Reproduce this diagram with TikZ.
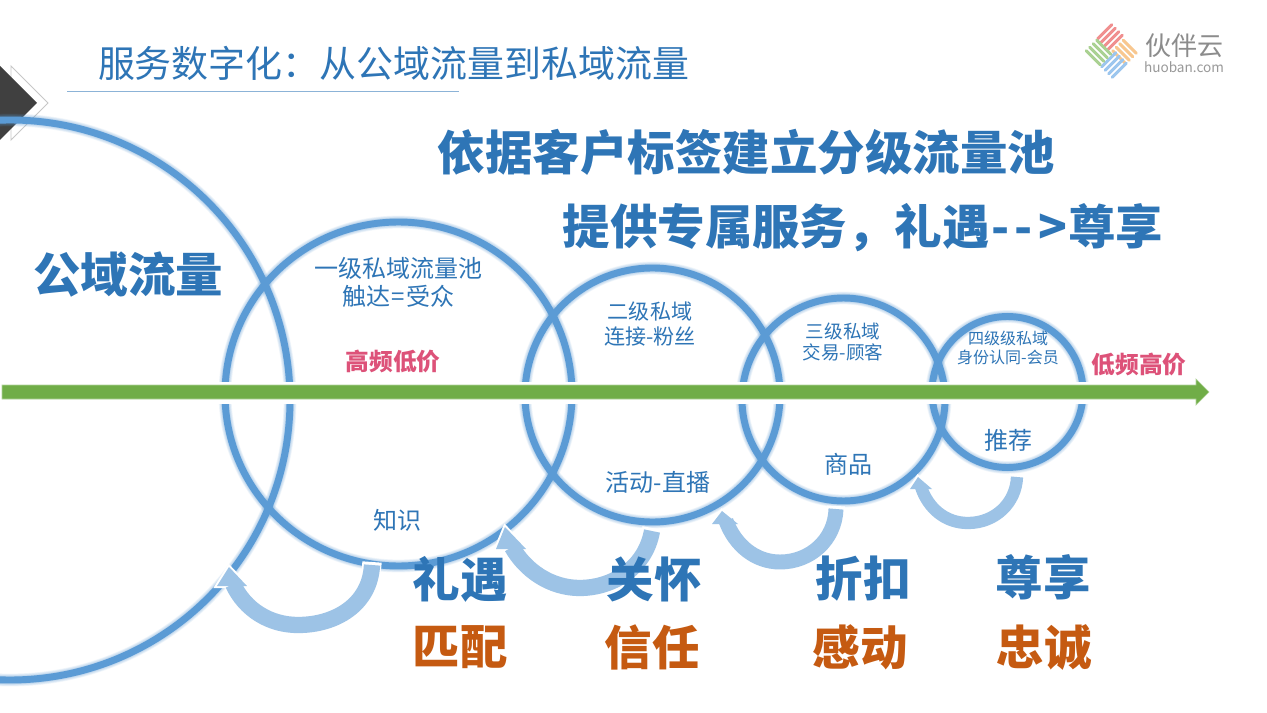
\documentclass[tikz,border=0pt]{standalone}
\usepackage{fontspec}
\setmainfont{Noto Sans CJK SC}
\usetikzlibrary{calc}
\definecolor{ringblue}{HTML}{5B9BD5}
\definecolor{arcblue}{HTML}{9DC3E6}
\definecolor{textblue}{HTML}{2E75B6}
\definecolor{orangetxt}{HTML}{C55A11}
\definecolor{pinktxt}{HTML}{DD5279}
\definecolor{greenbar}{HTML}{70AD47}
\definecolor{logored}{HTML}{F08F8F}
\definecolor{logoorange}{HTML}{F8C78F}
\definecolor{logoblue}{HTML}{9CC6EE}
\definecolor{logogreen}{HTML}{AAD192}
\newcommand{\fs}[1]{\fontsize{#1}{#1}\selectfont}
\tikzset{
  x=0.75pt,y=-0.75pt,
  lbl/.style={text=textblue,inner sep=0pt,align=center},
  big/.style={text=textblue,inner sep=0pt,font=\fs{35.6}\bfseries},
  bigo/.style={text=orangetxt,inner sep=0pt,font=\fs{35.6}\bfseries},
  pinkl/.style={text=pinktxt,inner sep=0pt,font=\fs{17.8}\bfseries},
  arcb/.style={draw=arcblue,line width=#1},
  arcw/.style={draw=white,line width=#1},
  headw/.style={fill=arcblue,preaction={draw=white,line width=3pt,line join=miter}},
  stripe/.style={line width=2.3pt,line cap=round},
}
\begin{document}
\begin{tikzpicture}
\useasboundingbox (0,0) rectangle (1267,713);
\clip (0,0) rectangle (1267,713);
\fill[white] (0,0) rectangle (1267,713);
% corner mark
\fill[white,draw=black!22,line width=.7pt] (11,66) -- (48,103) -- (11,140) -- cycle;
\fill[black!75] (-1,65) -- (37,103) -- (-1,141) -- cycle;
% rings
\coordinate (c0) at (10,400);
\coordinate (c1) at (398.5,394);
\coordinate (c2) at (652.5,395);
\coordinate (c3) at (843.5,399.5);
\coordinate (c4) at (1007.5,392);
\foreach \c/\rx/\ry in {c0/280/280,c1/173.5/172,c2/127.5/127,c3/101.5/101.5,c4/75.5/75.5}{
  \foreach \w in {9.6,8.8,8,7.2,6.4,5.8}{
    \draw[draw=ringblue,opacity=.08,line width=\w pt] (\c) ellipse[x radius=\rx*0.75pt,y radius=\ry*0.75pt];
  }
  \draw[draw=ringblue,line width=5.2pt] (\c) ellipse[x radius=\rx*0.75pt,y radius=\ry*0.75pt];
}
% axis
\fill[white] (0,381.5) rectangle (1196,403.5);
\coordinate (a0) at (2,392);
\coordinate (a1) at (1196,392);
\coordinate (a2) at (1209,392);
\filldraw[fill=greenbar,draw=greenbar!55,line width=.5pt] (a0) ++(0,-7) -- (1196,385) -- (1196,379) -- (a2) -- (1196,405) -- (1196,399) -- (2,399) -- cycle;
% loop arrows
\draw[arcw=14.5pt] (372,562) .. controls (370,605) and (335,625) .. (298,625) .. controls (270,625) and (245,610) .. (234,586);
\path[headw] (229,567) -- (247,586) -- (217,586) -- cycle;
\draw[arcb=12.2pt] (372,565) .. controls (370,605) and (335,625) .. (298,625) .. controls (270,625) and (245,610) .. (233,584);

\draw[arcw=14.5pt] (652,528) .. controls (645,570) and (610,588) .. (580,588) .. controls (550,588) and (525,570) .. (513,549);
\path[headw] (505,527) -- (526,549) -- (496,549) -- cycle;
\draw[arcb=12.2pt] (652,531) .. controls (645,570) and (610,588) .. (580,588) .. controls (550,588) and (525,570) .. (512,547);

\draw[arcw=13.5pt] (836,506) .. controls (835,540) and (810,562) .. (780,562) .. controls (755,562) and (735,545) .. (727,523);
\path[headw] (722,511) -- (738,524) -- (712,524) -- cycle;
\draw[arcb=11.2pt] (836,509) .. controls (835,540) and (810,562) .. (780,562) .. controls (755,562) and (735,545) .. (726,521);

\draw[arcw=11.5pt] (1017,474) .. controls (1016,503) and (995,523) .. (968,523) .. controls (945,523) and (928,508) .. (922,489);
\path[headw] (918,477) -- (932,489) -- (910,489) -- cycle;
\draw[arcb=9.2pt] (1017,477) .. controls (1016,503) and (995,523) .. (968,523) .. controls (945,523) and (928,508) .. (921,487);
% title
\node[text=textblue,inner sep=0pt,font=\fs{27.7}] (title) at (393.5,63) {服务数字化：从公域流量到私域流量};
\coordinate (t0) at (67,91);
\coordinate (t1) at (459,91);
\draw[draw=textblue!55,line width=.6pt] (t0) -- (t1);
% headlines
\node[big] (h1) at (746.5,152) {依据客户标签建立分级流量池};
\node[big] (h2) at (863,228) {提供专属服务，礼遇\kern1pt-\kern4pt-\kern4pt>\kern1pt尊享};
\node[big] (pub) at (128,275) {公域流量};
% circle labels
\node[lbl,font=\fs{18}] (l1a) at (398,268) {一级私域流量池};
\node[lbl,font=\fs{18}] (l1b) at (398.5,296) {触达\kern1pt=\kern1pt受众};
\node[pinkl] (hf) at (393,361) {高频低价};
\node[lbl,font=\fs{18}] (l1c) at (397,520) {知识};
\node[lbl,font=\fs{15.8}] (l2a) at (650,312) {二级私域};
\node[lbl,font=\fs{15.8}] (l2b) at (650,337) {连接-粉丝};
\node[lbl,font=\fs{18}] (l2c) at (658,482) {活动-直播};
\node[lbl,font=\fs{13.9}] (l3a) at (843,331) {三级私域};
\node[lbl,font=\fs{13.9}] (l3b) at (843,352) {交易-顾客};
\node[lbl,font=\fs{18}] (l3c) at (848,464) {商品};
\node[lbl,font=\fs{12}] (l4a) at (1008,338) {四级级私域};
\node[lbl,font=\fs{12}] (l4b) at (1008,357) {身份认同-会员};
\node[lbl,font=\fs{18}] (l4c) at (1008,440) {推荐};
\node[pinkl] (lf) at (1139,364) {低频高价};
% bottom
\node[big] (b1) at (460,579) {礼遇};
\node[bigo] (o1) at (460,647) {匹配};
\node[big] (b2) at (654,579) {关怀};
\node[bigo] (o2) at (652,647) {信任};
\node[big] (b3) at (863,579) {折扣};
\node[bigo] (o3) at (860,647) {感动};
\node[big] (b4) at (1043,577) {尊享};
\node[bigo] (o4) at (1044,647) {忠诚};
% logo
\foreach \i in {-1.5,-0.5,0.5,1.5}{
  \draw[stripe,draw=logored] ({1110+\i*3.5-7},{37+\i*3.5+7}) -- ({1110+\i*3.5+7},{37+\i*3.5-7});
  \draw[stripe,draw=logoorange] ({1124.5+\i*3.5-6.5},{52-\i*3.5-6.5}) -- ({1124.5+\i*3.5+6.5},{52-\i*3.5+6.5});
  \draw[stripe,draw=logoblue] ({1114+\i*3.5-7},{65+\i*3.5+7}) -- ({1114+\i*3.5+7},{65+\i*3.5-7});
  \draw[stripe,draw=logogreen] ({1098.5+\i*3.5-7},{52.5-\i*3.5-7}) -- ({1098.5+\i*3.5+7},{52.5-\i*3.5+7});
}
\node[text=black!45,inner sep=0pt,font=\fs{19.5}] (lg1) at (1184,46) {伙伴云};
\node[text=black!40,inner sep=0pt,font=\fs{10.2}] (lg2) at (1184,67) {huoban.com};
\end{tikzpicture}
\end{document}
